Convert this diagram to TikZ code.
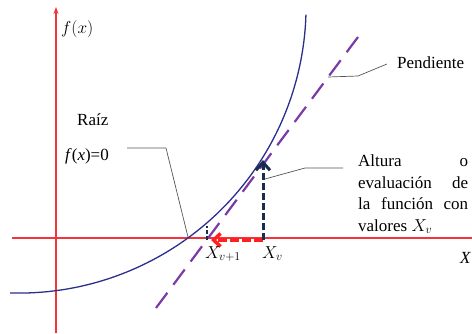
\documentclass[tikz,border=0pt]{standalone}
\usepackage{fontspec}
\setmainfont{Liberation Serif}
\usetikzlibrary{arrows.meta}
\definecolor{ejeRojo}{HTML}{F2353D}
\definecolor{curvaAzul}{HTML}{2B2F8C}
\definecolor{tanMorado}{HTML}{7B3AA6}
\definecolor{azulOscuro}{HTML}{1B2D4F}
\definecolor{flechaRoja}{HTML}{FF2020}
\definecolor{guiaGris}{HTML}{555555}

\begin{document}
\begin{tikzpicture}[x=1pt, y=-1pt, font=\fontsize{17}{21.5}\selectfont,
    guia/.style={draw=guiaGris, line width=0.7pt},
    texto/.style={anchor=base west, inner sep=0pt}]
    \useasboundingbox (0,0) rectangle (472,333);

    % Ejes
    \coordinate (ejeYabajo) at (56,333);
    \coordinate (ejeYarriba) at (56,7);
    \coordinate (ejeXizq) at (12,238);
    \coordinate (ejeXder) at (472,238);
    \draw[ejeRojo, line width=1.3pt, -{Stealth[length=7pt, width=5pt]}] (ejeYabajo) -- (ejeYarriba);
    \draw[ejeRojo, line width=1.3pt] (ejeXizq) -- (ejeXder);
    \node[texto] (fx) at (61,33) {$f(x)$};
    \node[texto] (ejeX) at (460,263) {\textit{X}};

    % Funcion (arco de circunferencia)
    \draw[curvaAzul, line width=1.3pt] plot[smooth, samples=60, domain=91.7:1.8]
        ({18.7+287.4*cos(\x)}, {5.7+287.4*sin(\x)});

    % Pendiente
    \coordinate (tanAbajo) at (156,308);
    \coordinate (tanArriba) at (358,37);
    \draw[tanMorado, line width=2.2pt, dash pattern=on 19pt off 10pt] (tanAbajo) -- (tanArriba);

    % Iteracion
    \coordinate (xv) at (263,240);
    \coordinate (fxv) at (263,160);
    \coordinate (xvr) at (263,240);
    \coordinate (xv1) at (211,240);
    \coordinate (marcaAbajo) at (207,240);
    \coordinate (marcaArriba) at (207,226);
    \draw[flechaRoja, line width=3.5pt, dash pattern=on 9pt off 3pt,
        -{Straight Barb[length=7pt, width=13pt]}] (xvr) -- (xv1);
    \draw[azulOscuro, line width=3pt, dash pattern=on 7pt off 3pt,
        -{Straight Barb[length=8pt, width=14pt]}] (xv) -- (fxv);
    \draw[azulOscuro, line width=2.5pt, dash pattern=on 4pt off 2pt] (marcaAbajo) -- (marcaArriba);
    \node[texto] (lxv1) at (205,258) {$X_{v+1}$};
    \node[texto] (lxv) at (262,258) {$X_v$};

    % Etiquetas
    \node[texto] (raiz) at (77,125) {Raíz};
    \node[texto] (fcero) at (65,160) {\textit{f}(\textit{x})=0};
    \node[texto] (pend) at (397,68) {Pendiente};
    \node[texto, align=left] (altura) at (358,231)
        {\makebox[110pt][s]{Altura o}\\
         \makebox[110pt][s]{evaluación de}\\
         \makebox[110pt][s]{la función con}\\
         valores $X_v$};

    % Guias
    \coordinate (raizIni) at (127,148);
    \coordinate (raizCodo) at (166,148);
    \coordinate (raizFin) at (188,237);
    \draw[guia] (raizIni) -- (raizCodo) -- (raizFin);
    \coordinate (pendIni) at (328,77);
    \coordinate (pendCodo) at (358,76);
    \coordinate (pendFin) at (387,64);
    \draw[guia] (pendIni) -- (pendCodo) -- (pendFin);
    \coordinate (altIni) at (265,179);
    \coordinate (altCodo) at (305,168);
    \coordinate (altFin) at (343,168);
    \draw[guia] (altIni) -- (altCodo) -- (altFin);
\end{tikzpicture}
\end{document}
